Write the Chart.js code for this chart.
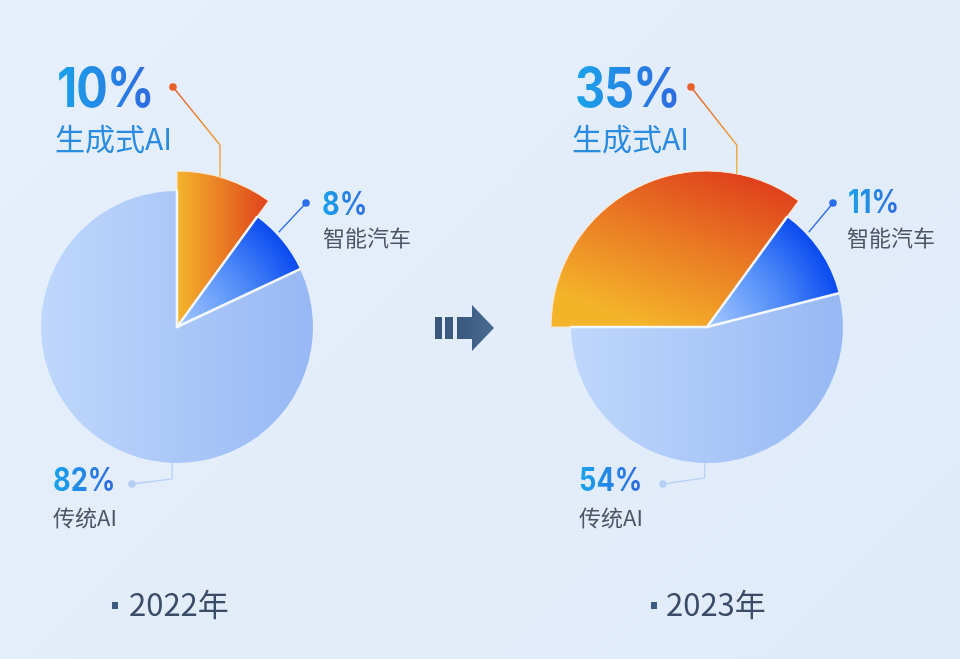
<!DOCTYPE html>
<html>
<head>
<meta charset="utf-8">
<script src="https://cdn.jsdelivr.net/npm/chart.js@4.4.0/dist/chart.umd.min.js"></script>
<style>
  html, body { margin: 0; padding: 0; }
  body {
    width: 960px; height: 659px; position: relative; overflow: hidden;
    background: linear-gradient(135deg, #e6effb 0%, #e0ebf9 100%);
    font-family: "Noto Sans CJK SC", "Noto Sans", sans-serif;
  }
  canvas { position: absolute; left: 0; top: 0; }
  .lbl { position: absolute; white-space: nowrap; line-height: 1; }
  .pct {
    font-family: Inter, "Noto Sans", sans-serif; font-weight: 700;
    background: linear-gradient(90deg, #1aa2ea, #2f6ae0);
    -webkit-background-clip: text; background-clip: text; color: transparent;
    transform: scaleX(0.85); transform-origin: 0 0;
  }
  .big { font-size: 55px; letter-spacing: -1px; }
  .mid { font-size: 32px; letter-spacing: 0; }
  .gen { font-size: 30px; color: #2a8be3; font-weight: 400; }
  .name { font-size: 22px; color: #4b5566; }
  .year { font-size: 31px; color: #3a4c68; }
  .sq { position: absolute; width: 6px; height: 7px; background: #3d5a80; }
  #arrow { position: absolute; left: 430px; top: 300px; }
</style>
</head>
<body>
<canvas id="pie2022" width="960" height="659"></canvas>
<canvas id="pie2023" width="960" height="659"></canvas>
<svg id="arrow" width="70" height="56" viewBox="430 300 70 56">
  <defs>
    <linearGradient id="ag" x1="0" x2="1" y1="0" y2="0">
      <stop offset="0" stop-color="#3a567c"/>
      <stop offset="1" stop-color="#4a6c94"/>
    </linearGradient>
  </defs>
  <rect x="435" y="317" width="7" height="22" fill="#3a567c"/>
  <rect x="445" y="317" width="8" height="22" fill="#3c597f"/>
  <path d="M457 317 H472 V305 L494 328 L472 351 V339 H457 Z" fill="url(#ag)"/>
</svg>
<script>
const categories = ['生成式AI', '智能汽车', '传统AI'];
const years = ['2022年', '2023年'];
const share2022 = [10, 8, 82];
const share2023 = [35, 11, 54];

// page layout for each pie (pixels)
const layouts = [
  {
    id: 'pie2022', cx: 177, cy: 327, rotation: 0,
    orangeGrad: [0, 0, 92, 0],
    leaders: [
      { angle: 16, r: 156, elbow: -182, dot: [-4, -240] },
      { angle: 47, r: 139, elbow: null, dot: [129, -124] },
      { angle: 182, r: 136, elbow: 152, dot: [-45, 157] }
    ],
    labels: [[57, 60, 55, 122], [322, 188, 323, 225], [53, 464, 53, 505]],
    year: [112, 129, 587]
  },
  {
    id: 'pie2023', cx: 707, cy: 327, rotation: -90,
    orangeGrad: [-30, 10, 30, -156],
    leaders: [
      { angle: 11, r: 156, elbow: -182, dot: [-16, -240] },
      { angle: 47, r: 139, elbow: null, dot: [126, -124] },
      { angle: 181, r: 136, elbow: 151, dot: [-44, 157] }
    ],
    labels: [[575, 60, 572, 122], [848, 186, 847, 225], [579, 464, 579, 505]],
    year: [651, 666, 587]
  }
];
const pieRadius = 136;
const popRadius = 156;
const leaderColors = [['#e8602a', '#f0b43a'], ['#2a6ee8', '#3a72da'], ['#b5cff5', '#bcd3f6']];

function sliceFill(c) {
  const chart = c.chart, area = chart.chartArea;
  if (!area) return '#b5cff8';
  const g = chart.ctx;
  const cx = (area.left + area.right) / 2, cy = (area.top + area.bottom) / 2;
  if (c.dataIndex === 0) {
    const v = chart.options.plugins.leaderLines.orangeGrad;
    const og = g.createLinearGradient(cx + v[0], cy + v[1], cx + v[2], cy + v[3]);
    og.addColorStop(0, '#f4b42a');
    og.addColorStop(0.5, '#ea7c24');
    og.addColorStop(1, '#df401c');
    return og;
  }
  if (c.dataIndex === 1) {
    const rg = g.createRadialGradient(cx, cy, 0, cx, cy, pieRadius + 4);
    rg.addColorStop(0, '#a6c8ff');
    rg.addColorStop(0.55, '#4f8cf8');
    rg.addColorStop(1, '#0646f0');
    return rg;
  }
  const lg = g.createLinearGradient(cx - pieRadius, 0, cx + pieRadius, 0);
  lg.addColorStop(0, '#bfd7fc');
  lg.addColorStop(1, '#97b8f4');
  return lg;
}

const popOut = {
  id: 'popOut',
  afterDatasetsUpdate(chart) {
    chart.getDatasetMeta(0).data[0].outerRadius = popRadius;
  }
};

const leaderLines = {
  id: 'leaderLines',
  afterDatasetsDraw(chart, args, opts) {
    const arcs = chart.getDatasetMeta(0).data;
    const cx = arcs[0].x, cy = arcs[0].y;
    const ctx = chart.ctx;
    // white separators between slices
    ctx.save();
    ctx.strokeStyle = '#f4f8fe';
    ctx.lineWidth = 2.5;
    ctx.lineCap = 'round';
    arcs.forEach(a => {
      ctx.beginPath();
      ctx.moveTo(cx, cy);
      ctx.lineTo(cx + pieRadius * Math.cos(a.startAngle), cy + pieRadius * Math.sin(a.startAngle));
      ctx.stroke();
    });
    ctx.restore();
    opts.leaders.forEach((l, i) => {
      const a = l.angle * Math.PI / 180;
      const p0 = [cx + l.r * Math.sin(a), cy - l.r * Math.cos(a)];
      const pts = [p0];
      if (l.elbow !== null) pts.push([p0[0], cy + l.elbow]);
      const dot = [cx + l.dot[0], cy + l.dot[1]];
      pts.push(dot);
      const grad = ctx.createLinearGradient(dot[0], dot[1], p0[0], p0[1]);
      grad.addColorStop(0, leaderColors[i][0]);
      grad.addColorStop(1, leaderColors[i][1]);
      ctx.save();
      ctx.strokeStyle = grad;
      ctx.lineWidth = 1.4;
      ctx.beginPath();
      pts.forEach((p, k) => k ? ctx.lineTo(p[0], p[1]) : ctx.moveTo(p[0], p[1]));
      ctx.stroke();
      ctx.fillStyle = leaderColors[i][0];
      ctx.beginPath();
      ctx.arc(dot[0], dot[1], 3.8, 0, Math.PI * 2);
      ctx.fill();
      ctx.restore();
    });
  }
};

[share2022, share2023].forEach((values, k) => {
  const L = layouts[k];
  new Chart(document.getElementById(L.id), {
    type: 'pie',
    data: {
      labels: categories,
      datasets: [{
        data: values,
        radius: pieRadius,
        backgroundColor: sliceFill,
        borderColor: ['#f8e6d4', 'rgba(0,0,0,0)', 'rgba(0,0,0,0)'],
        borderWidth: [1.2, 0, 0],
        clip: false
      }]
    },
    options: {
      responsive: false,
      animation: false,
      events: [],
      rotation: L.rotation,
      layout: {
        padding: {
          left: Math.max(0, 2 * L.cx - 960), right: Math.max(0, 960 - 2 * L.cx),
          top: Math.max(0, 2 * L.cy - 659), bottom: Math.max(0, 659 - 2 * L.cy)
        }
      },
      plugins: {
        legend: { display: false },
        tooltip: { enabled: false },
        leaderLines: { leaders: L.leaders, orangeGrad: L.orangeGrad }
      }
    },
    plugins: [popOut, leaderLines]
  });

  // text labels
  values.forEach((v, i) => {
    const pos = L.labels[i];
    const p = document.createElement('div');
    p.className = 'lbl pct ' + (i === 0 ? 'big' : 'mid');
    p.style.left = pos[0] + 'px'; p.style.top = pos[1] + 'px';
    p.textContent = v + '%';
    document.body.appendChild(p);
    const n = document.createElement('div');
    n.className = 'lbl ' + (i === 0 ? 'gen' : 'name');
    n.style.left = pos[2] + 'px'; n.style.top = pos[3] + 'px';
    n.textContent = categories[i];
    document.body.appendChild(n);
  });
  const sq = document.createElement('div');
  sq.className = 'sq';
  sq.style.left = L.year[0] + 'px'; sq.style.top = '602px';
  document.body.appendChild(sq);
  const y = document.createElement('div');
  y.className = 'lbl year';
  y.style.left = L.year[1] + 'px'; y.style.top = L.year[2] + 'px';
  y.textContent = years[k];
  document.body.appendChild(y);
});
</script>
</body>
</html>
